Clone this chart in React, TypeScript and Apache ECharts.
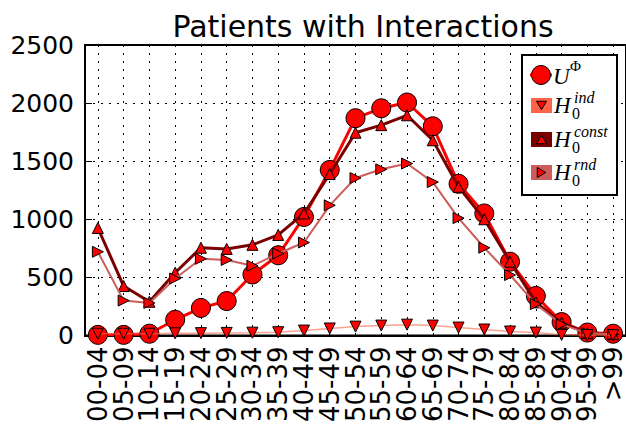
import React, { useEffect, useRef } from 'react';
import * as echarts from 'echarts';

const categories = ['00-04', '05-09', '10-14', '15-19', '20-24', '25-29', '30-34', '35-39', '40-44', '45-49', '50-54', '55-59', '60-64', '65-69', '70-74', '75-79', '80-84', '85-89', '90-94', '95-99', '>99'];
const yTicks = [0, 500, 1000, 1500, 2000, 2500];

const uPhi = [5, 5, 15, 135, 237, 296, 525, 690, 1020, 1425, 1870, 1955, 2005, 1800, 1305, 1050, 635, 340, 115, 25, 15];
const h0Ind = [15, 15, 15, 18, 20, 22, 24, 28, 42, 60, 76, 85, 93, 85, 68, 51, 34, 25, 5, 3, 2];
const h0Const = [925, 425, 290, 540, 755, 745, 780, 865, 1050, 1390, 1745, 1810, 1895, 1680, 1280, 1000, 635, 285, 110, 20, 10];
const h0Rnd = [720, 300, 280, 490, 660, 650, 600, 705, 800, 1120, 1355, 1430, 1480, 1320, 1010, 755, 520, 270, 95, 20, 10];

const RED = '#ff0000';
const TOMATO = '#ff6347';
const MAROON = '#7a0000';
const INDIANRED = '#cd5c5c';
const SANS = '"DejaVu Sans", sans-serif';
const SERIF = '"Liberation Serif", "DejaVu Serif", serif';

function tri(cx: number, cy: number, s: number, dir: string) {
  const h = s / 2;
  if (dir === 'down') return [[cx - h, cy - h * 0.85], [cx + h, cy - h * 0.85], [cx, cy + h * 0.85]];
  if (dir === 'up') return [[cx - h, cy + h * 0.85], [cx + h, cy + h * 0.85], [cx, cy - h * 0.85]];
  return [[cx - h * 0.85, cy - h], [cx - h * 0.85, cy + h], [cx + h * 0.85, cy]];
}

function legendEntry(cy: number, color: string, dir: string, sup: string) {
  return [
    { type: 'rect', z: 101, shape: { x: 531, y: cy - 7.5, width: 21, height: 15 }, style: { fill: color } },
    { type: 'polygon', z: 102, shape: { points: tri(541.5, cy, 10, dir) }, style: { fill: RED, stroke: '#000', lineWidth: 1 } },
    { type: 'text', z: 102, x: 554, y: cy, style: { text: 'H', fontSize: 23, fontStyle: 'italic', fontFamily: SERIF, fill: '#000', verticalAlign: 'middle', align: 'left' } },
    { type: 'text', z: 102, x: 572, y: cy + 8, style: { text: '0', fontSize: 16, fontFamily: SERIF, fill: '#000', verticalAlign: 'middle', align: 'left' } },
    { type: 'text', z: 102, x: 574, y: cy - 8, style: { text: sup, fontSize: 16, fontStyle: 'italic', fontFamily: SERIF, fill: '#000', verticalAlign: 'middle', align: 'left' } },
  ];
}

export default function App() {
  const ref = useRef<HTMLDivElement>(null);
  useEffect(() => {
    if (!ref.current) return;
    const chart = echarts.init(ref.current, undefined, { renderer: 'svg' });
    const dotted = { color: '#000', width: 1, type: [2, 6] as any };
    const option: any = {
      animation: false,
      backgroundColor: '#fff',
      title: {
        text: 'Patients with Interactions',
        left: 358,
        textAlign: 'center',
        top: 6,
        textStyle: { fontSize: 30, fontWeight: 'normal', fontFamily: SANS, color: '#000' },
      },
      grid: { left: 85, top: 45, width: 546, height: 295, show: true, borderColor: '#000', borderWidth: 2, backgroundColor: 'transparent' },
      xAxis: [
        {
          type: 'category',
          data: categories,
          boundaryGap: true,
          axisLine: { lineStyle: { color: '#000', width: 2 } },
          axisTick: { inside: true, alignWithLabel: true, length: 7, lineStyle: { color: '#000', width: 1 } },
          axisLabel: { rotate: 90, fontSize: 26, fontFamily: SANS, color: '#000', margin: 11, interval: 0 },
          splitLine: { show: true, alignWithLabel: true, interval: 0, lineStyle: dotted },
        },
        {
          type: 'category',
          data: categories,
          position: 'top',
          boundaryGap: true,
          axisLine: { show: false },
          axisTick: { inside: true, alignWithLabel: true, length: 7, interval: 0, lineStyle: { color: '#000', width: 1 } },
          axisLabel: { show: false },
          splitLine: { show: false },
        },
      ],
      yAxis: {
        type: 'value',
        min: yTicks[0],
        max: yTicks[yTicks.length - 1],
        interval: 500,
        axisLine: { show: true, lineStyle: { color: '#000', width: 2 } },
        axisTick: { show: true, inside: true, length: 7, lineStyle: { color: '#000', width: 1 } },
        axisLabel: { fontSize: 25, fontFamily: SANS, color: '#000', margin: 11, formatter: (v: number) => String(v) },
        splitLine: { show: true, lineStyle: dotted },
      },
      series: [
        {
          name: 'U',
          type: 'line',
          data: uPhi,
          symbol: 'circle',
          symbolSize: 19,
          lineStyle: { color: RED, width: 3 },
          itemStyle: { color: RED, borderColor: '#000', borderWidth: 1 },
          z: 2,
        },
        {
          name: 'const',
          type: 'line',
          data: h0Const,
          symbol: 'triangle',
          symbolSize: 11,
          lineStyle: { color: MAROON, width: 3 },
          itemStyle: { color: RED, borderColor: '#000', borderWidth: 1 },
          z: 3,
        },
        {
          name: 'rnd',
          type: 'line',
          data: h0Rnd,
          symbol: 'triangle',
          symbolRotate: -90,
          symbolSize: 11,
          lineStyle: { color: INDIANRED, width: 2 },
          itemStyle: { color: RED, borderColor: '#000', borderWidth: 1 },
          z: 4,
        },
        {
          name: 'ind',
          type: 'line',
          data: h0Ind,
          symbol: 'triangle',
          symbolRotate: 180,
          symbolSize: 11,
          lineStyle: { color: TOMATO, width: 1.5, opacity: 0.6 },
          itemStyle: { color: RED, borderColor: '#000', borderWidth: 1 },
          z: 5,
        },
      ],
      graphic: [
        { type: 'rect', z: 100, shape: { x: 522, y: 55, width: 95, height: 140 }, style: { fill: '#fff', stroke: '#000', lineWidth: 2 } },
        { type: 'line', z: 101, shape: { x1: 530, y1: 75, x2: 552, y2: 75 }, style: { stroke: RED, lineWidth: 3 } },
        { type: 'circle', z: 102, shape: { cx: 541, cy: 75, r: 9.5 }, style: { fill: RED, stroke: '#000', lineWidth: 1 } },
        { type: 'text', z: 102, x: 553, y: 76, style: { text: 'U', fontSize: 23, fontStyle: 'italic', fontFamily: SERIF, fill: '#000', verticalAlign: 'middle', align: 'left' } },
        { type: 'text', z: 102, x: 570, y: 66, style: { text: 'Φ', fontSize: 15, fontFamily: SERIF, fill: '#000', verticalAlign: 'middle', align: 'left' } },
        ...legendEntry(105.5, TOMATO, 'down', 'ind'),
        ...legendEntry(139.5, MAROON, 'up', 'const'),
        ...legendEntry(172.5, INDIANRED, 'right', 'rnd'),
      ],
    };
    chart.setOption(option);
    return () => chart.dispose();
  }, []);
  return <div ref={ref} style={{ position: 'fixed', left: 0, top: 0, width: 626, height: 425 }} />;
}
